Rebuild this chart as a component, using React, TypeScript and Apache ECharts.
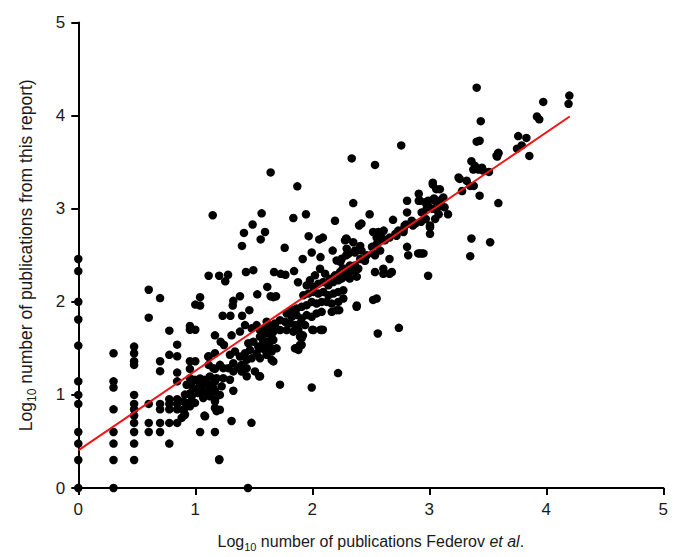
import React, { useEffect, useRef } from 'react';
import * as echarts from 'echarts';

const FONT = "'Liberation Sans', Arial, Helvetica, sans-serif";

const xTicks = [0, 1, 2, 3, 4, 5];
const yTicks = [0, 1, 2, 3, 4, 5];

// points sitting on the y axis (x = 0)
const onAxisPoints: [number, number][] = [
  [0, 2.46], [0, 2.33], [0, 2.0], [0, 1.81], [0, 1.53], [0, 1.146], [0, 1.0], [0, 0.903],
  [0, 0.602], [0, 0.477], [0, 0.301], [0, 0],
];

// discrete low-count columns
const lowColumns: [number, number][] = [
  [0.301, 1.447], [0.301, 1.146], [0.301, 1.079], [0.301, 0.845], [0.301, 0.602], [0.301, 0.477], [0.301, 0.301], [0.301, 0],
  [0.477, 1.519], [0.477, 1.447], [0.477, 1.362], [0.477, 1.322], [0.477, 1.0], [0.477, 0.903], [0.477, 0.845], [0.477, 0.778],
  [0.477, 0.699], [0.477, 0.602], [0.477, 0.477], [0.477, 0.301],
  [0.602, 2.13], [0.602, 1.83], [0.602, 0.903], [0.602, 0.699], [0.602, 0.602],
  [0.699, 2.04], [0.699, 1.362], [0.699, 1.255], [0.699, 0.903], [0.699, 0.845], [0.699, 0.699], [0.699, 0.602],
  [0.778, 1.69], [0.778, 1.43], [0.778, 0.954], [0.778, 0.903], [0.778, 0.845], [0.778, 0.699], [0.778, 0.477],
  [0.845, 1.54], [0.845, 1.415], [0.845, 1.24], [0.845, 1.146], [0.845, 0.954], [0.845, 0.903], [0.845, 0.845], [0.845, 0.699],
  [0.903, 0.845], [0.903, 0.778],
  [0.954, 1.74], [0.954, 1.70], [0.954, 1.362], [0.954, 1.279], [0.954, 1.114], [0.954, 1.017], [0.954, 0.903],
  [1.0, 1.97], [1.0, 1.70], [1.0, 1.362],
  [1.041, 2.05], [1.041, 1.96], [1.041, 1.176], [1.041, 1.114], [1.041, 1.041], [1.041, 0.602],
  [1.079, 1.146], [1.079, 0.778],
  [1.114, 2.28], [1.114, 1.415], [1.114, 1.322], [1.114, 1.114], [1.114, 1.0],
  [1.168, 1.447], [1.168, 1.279], [1.168, 1.146], [1.168, 1.041], [1.168, 0.954], [1.168, 0.602], [1.168, 1.64],
  [1.204, 2.28], [1.204, 0.301],
];

// band, lower part (x ~ 0.9 - 1.7)
const bandLow: [number, number][] = [
  [1.382, 1.68], [1.425, 1.75], [1.482, 1.715], [1.524, 1.75], [1.61, 1.786], [1.638, 1.715], [1.681, 1.768],
  [1.595, 1.66], [1.553, 1.626], [1.652, 1.626], [1.453, 1.555], [1.496, 1.572], [1.538, 1.519], [1.581, 1.572],
  [1.624, 1.537], [1.667, 1.59], [1.695, 1.5], [1.467, 1.483], [1.524, 1.448], [1.595, 1.483], [1.652, 1.466],
  [1.296, 1.43], [1.339, 1.466], [1.382, 1.412], [1.425, 1.448], [1.439, 1.377], [1.482, 1.394], [1.553, 1.394],
  [1.61, 1.43], [1.325, 1.34], [1.396, 1.323], [1.239, 1.287], [1.282, 1.287], [1.325, 1.252], [1.368, 1.287],
  [1.439, 1.287], [1.51, 1.252], [1.211, 1.323], [1.154, 1.287], [1.125, 1.198], [1.182, 1.18], [1.239, 1.18],
  [1.296, 1.163], [1.04, 1.145], [1.083, 1.163], [0.997, 1.163], [0.954, 1.18], [0.926, 1.109], [0.983, 1.074],
  [1.054, 1.092], [1.097, 1.038], [1.154, 1.074], [1.225, 1.092], [0.912, 1.003], [0.969, 0.985], [1.026, 1.02],
  [1.068, 0.967], [1.125, 0.985], [0.897, 0.931], [0.94, 0.914], [0.997, 0.914], [0.897, 0.842], [0.954, 0.878],
  [1.168, 0.931], [1.168, 0.86], [1.182, 0.825], [0.912, 0.789], [0.883, 0.753],
  [1.217, 1.57], [1.245, 1.536], [1.31, 1.64], [1.111, 1.41],
];

// band, middle part (x ~ 1.55 - 2.4)
const bandMid: [number, number][] = [
  [2.208, 2.444], [2.251, 2.462], [2.308, 2.516], [2.365, 2.551], [2.322, 2.391], [2.279, 2.355], [2.237, 2.32],
  [2.194, 2.284], [2.151, 2.248], [2.109, 2.302], [2.066, 2.355], [2.023, 2.284], [1.98, 2.231], [1.952, 2.177],
  [2.009, 2.16], [2.052, 2.195], [2.094, 2.213], [2.137, 2.177], [2.18, 2.213], [2.222, 2.231], [2.265, 2.266],
  [2.308, 2.302], [2.351, 2.338], [2.393, 2.355], [1.923, 2.07], [1.966, 2.088], [2.009, 2.106], [2.052, 2.088],
  [2.094, 2.106], [2.137, 2.07], [2.18, 2.088], [2.222, 2.106], [2.265, 2.124], [2.123, 1.999], [2.166, 1.981],
  [2.08, 1.999], [2.037, 1.981], [1.995, 1.999], [1.952, 1.964], [1.909, 1.946], [1.866, 1.928], [1.824, 1.91],
  [2.222, 1.999], [2.265, 2.035], [1.781, 1.875], [1.824, 1.839], [1.866, 1.857], [1.909, 1.821], [1.952, 1.857],
  [1.995, 1.839], [2.037, 1.875], [2.08, 1.892], [1.724, 1.803], [1.767, 1.786], [1.809, 1.768], [1.852, 1.75],
  [1.895, 1.768], [1.938, 1.75], [1.681, 1.75], [1.638, 1.732], [1.596, 1.714], [1.553, 1.697], [1.61, 1.661],
  [1.667, 1.679], [1.724, 1.697], [1.781, 1.697], [1.838, 1.679], [1.881, 1.697], [1.567, 1.625], [1.581, 1.554],
  [1.624, 1.572], [1.653, 1.5], [1.553, 1.5], [2.166, 1.892], [2.208, 1.91], [1.895, 1.625], [1.909, 1.536],
  [1.852, 1.5], [1.881, 1.483], [2.08, 1.697], [2.009, 1.697], [2.379, 1.946],
];

// band, upper part (x ~ 2.2 - 3.2)
const bandHigh: [number, number][] = [
  [2.49, 2.94], [2.69, 2.88], [2.81, 3.085], [2.91, 3.16], [2.91, 3.085], [3.03, 3.26], [3.06, 3.21], [2.99, 3.03],
  [3.04, 3.11], [3.06, 2.99], [2.81, 2.96], [2.85, 2.87], [2.8, 2.83], [2.88, 2.84], [2.93, 2.86], [2.97, 2.89],
  [3.006, 2.82], [3.006, 2.73], [2.935, 2.52], [2.905, 2.52], [2.99, 2.28], [2.66, 2.46], [2.81, 2.59], [2.82, 2.5],
  [2.536, 2.32], [2.607, 2.355], [2.607, 2.3], [2.66, 2.3], [2.31, 2.3], [2.365, 2.39], [2.29, 2.5], [2.28, 2.66],
  [2.35, 2.64], [2.41, 2.6], [2.52, 2.75], [2.565, 2.75], [2.59, 2.73], [2.61, 2.765], [2.55, 2.69], [2.62, 2.66],
  [2.66, 2.69], [2.72, 2.71], [2.735, 2.765], [2.78, 2.78], [2.86, 2.82], [2.55, 2.62], [2.58, 2.55], [2.52, 2.52],
  [2.465, 2.5], [2.41, 2.46], [2.45, 2.44], [2.51, 2.59], [2.42, 2.55], [2.365, 2.53], [2.24, 2.43], [2.26, 2.355],
  [2.32, 2.25], [2.38, 2.27], [2.25, 2.25], [2.42, 2.84], [2.29, 2.68], [2.963, 3.07], [3.09, 3.03], [3.05, 2.89],
  [3.006, 2.8], [2.935, 2.96], [2.79, 2.82], [2.78, 2.75], [2.71, 2.73], [2.565, 2.66], [2.536, 2.5], [2.68, 2.32],
  [2.92, 2.52], [2.95, 2.52], [3.16, 2.94], [3.12, 3.12], [3.09, 3.21], [3.03, 3.28], [3.106, 3.1], [3.13, 3.015],
  [2.98, 3.015], [2.95, 2.96], [3.03, 3.0], [3.08, 2.94], [2.92, 3.085], [2.99, 3.085], [3.05, 3.085],
];

// top-right tail
const topTail: [number, number][] = [
  [3.405, 4.3], [3.44, 3.94], [3.405, 3.72], [3.43, 3.73], [3.59, 3.6], [3.575, 3.57], [3.76, 3.78], [3.79, 3.68],
  [3.83, 3.76], [3.75, 3.645], [3.855, 3.567], [3.36, 3.51], [3.39, 3.46], [3.376, 3.42], [3.42, 3.42], [3.45, 3.44],
  [3.46, 3.41], [3.51, 3.395], [3.25, 3.335], [3.26, 3.32], [3.32, 3.3], [3.35, 3.245], [3.38, 3.245], [3.28, 3.19],
  [3.43, 3.14], [3.59, 3.06], [3.36, 2.68], [3.52, 2.64], [3.35, 2.49], [4.197, 4.215], [4.19, 4.126], [3.974, 4.147],
  [3.92, 3.99], [3.94, 3.96], [3.59, 3.595], [3.58, 3.56],
];

// scattered points above the band
const aboveBand: [number, number][] = [
  [2.337, 3.54], [1.644, 3.39], [1.872, 3.24], [2.35, 3.06], [1.149, 2.93], [1.567, 2.95], [1.838, 2.9], [1.946, 2.94],
  [2.194, 2.87], [1.49, 2.83], [1.416, 2.74], [1.596, 2.75], [1.559, 2.67], [1.399, 2.6], [1.969, 2.705], [2.06, 2.67],
  [2.09, 2.69], [2.294, 2.67], [1.764, 2.58], [2.4, 2.82], [1.995, 2.53], [1.918, 2.46], [2.07, 2.48], [2.174, 2.55],
  [2.294, 2.57], [1.28, 2.29], [1.256, 2.22], [1.433, 2.32], [1.496, 2.34], [1.673, 2.32], [1.73, 2.3], [1.77, 2.29],
  [1.844, 2.33], [1.878, 2.21], [1.615, 2.16], [1.53, 2.08], [1.382, 2.06], [1.325, 2.01], [1.32, 1.96], [1.234, 1.85],
  [1.3, 1.85], [1.4, 1.85], [1.462, 1.91], [1.644, 2.06], [1.69, 2.06], [1.667, 2.05], [2.536, 3.47], [2.76, 3.68],
];

// scattered points below the band
const belowBand: [number, number][] = [
  [1.45, 0], [1.205, 0.31], [1.31, 0.72], [1.48, 0.7], [1.083, 0.77], [1.21, 0.84], [1.325, 1.045], [1.724, 1.11],
  [1.995, 1.08], [2.22, 1.234], [1.547, 1.2], [1.653, 1.376], [1.667, 1.36], [1.866, 1.5], [1.895, 1.536], [1.91, 1.61],
  [1.92, 1.64], [2.07, 1.7], [2.23, 1.91], [2.38, 1.96], [2.56, 1.66], [2.74, 1.72], [2.52, 2.02], [2.55, 2.035],
  [2.0, 1.7], [2.09, 1.7], [1.21, 1.0], [1.397, 1.25], [1.44, 1.2], [1.553, 1.2],
];

// regression line end points
const fitX = [0, 4.2];
const fitY = [0.404, 3.99];

export default function App() {
  const ref = useRef<HTMLDivElement>(null);
  useEffect(() => {
    const chart = echarts.init(ref.current!, null, { renderer: 'svg' });
    const allPoints = [
      ...onAxisPoints, ...lowColumns, ...bandLow, ...bandMid, ...bandHigh, ...topTail, ...aboveBand, ...belowBand,
    ];
    const axisCommon = {
      type: 'value' as const,
      min: 0,
      max: 5,
      interval: 1,
      splitLine: { show: false },
      axisLine: { show: true, lineStyle: { color: '#000', width: 2 } },
      axisTick: { show: true, length: 7, lineStyle: { color: '#000', width: 2 } },
      axisLabel: { fontSize: 17, color: '#1a1a1a', fontFamily: FONT, margin: 13 },
      nameLocation: 'middle' as const,
    };
    const richX = {
      n: { fontSize: 16, fontFamily: FONT, color: '#1a1a1a' },
      i: { fontSize: 16, fontFamily: FONT, color: '#1a1a1a', fontStyle: 'italic' },
      s: { fontSize: 11, fontFamily: FONT, color: '#1a1a1a', padding: [11, 0, 0, 0] },
    };
    const richY = {
      n: { fontSize: 17.5, fontFamily: FONT, color: '#1a1a1a' },
      s: { fontSize: 12, fontFamily: FONT, color: '#1a1a1a', padding: [12, 0, 0, 0] },
    };
    chart.setOption({
      animation: false,
      backgroundColor: '#fff',
      grid: { left: 78.3, right: 19.7, top: 22.5, bottom: 66.5, containLabel: false },
      xAxis: {
        ...axisCommon,
        axisLabel: { ...axisCommon.axisLabel, formatter: (v: number) => (xTicks.includes(v) ? String(v) : '') },
        name: '{n|Log}{s|10}{n| number of publications Federov }{i|et al}{n|.}',
        nameGap: 42,
        nameTextStyle: { rich: richX },
      },
      yAxis: {
        ...axisCommon,
        axisLabel: { ...axisCommon.axisLabel, formatter: (v: number) => (yTicks.includes(v) ? String(v) : '') },
        name: '{n|Log}{s|10}{n| number of publications from this report)}',
        nameGap: 40,
        nameRotate: 90,
        nameTextStyle: { rich: richY },
      },
      series: [
        {
          type: 'scatter',
          data: allPoints,
          symbol: 'circle',
          symbolSize: 8.5,
          clip: false,
          itemStyle: { color: '#000', opacity: 1 },
          z: 3,
        },
        {
          type: 'line',
          data: fitX.map((x, k) => [x, fitY[k]]),
          showSymbol: false,
          symbol: 'none',
          lineStyle: { color: '#f01414', width: 2 },
          z: 4,
        },
      ],
    });
    return () => chart.dispose();
  }, []);
  return (
    <div
      ref={ref}
      style={{ position: 'absolute', left: 0, top: 0, width: 683, height: 557, background: '#fff' }}
    />
  );
}
